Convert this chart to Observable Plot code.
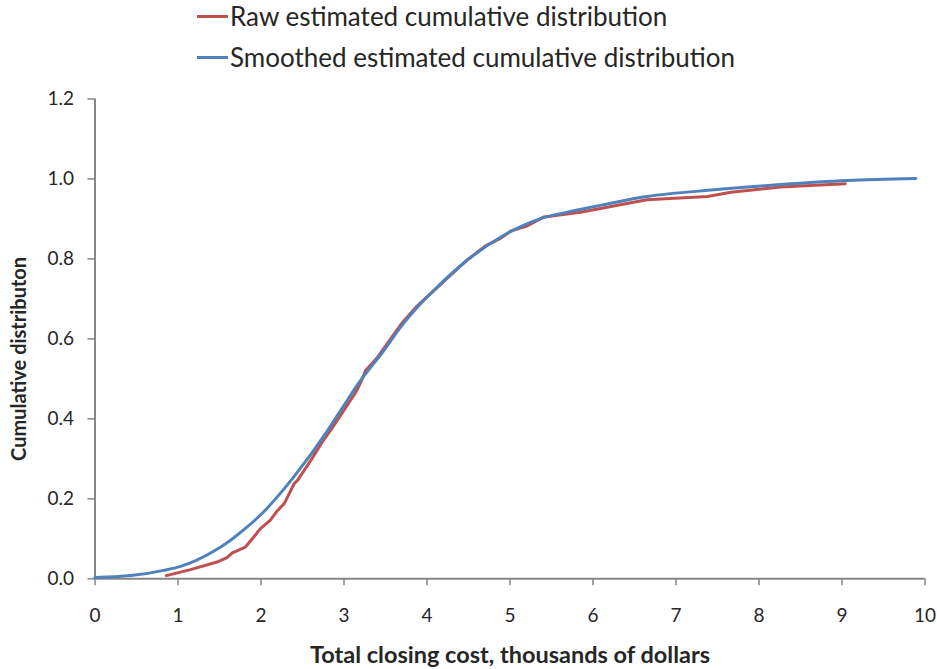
<!DOCTYPE html>
<html>
<head>
<meta charset="utf-8">
<script src="https://cdn.jsdelivr.net/npm/d3@7"></script>
<script src="https://cdn.jsdelivr.net/npm/@observablehq/plot@0.6"></script>
<style>
  html, body { margin: 0; padding: 0; background: #fff; }
  #wrap { position: relative; width: 937px; height: 669px; font-family: Lato, "Open Sans", sans-serif; }
  #legend { position: absolute; left: 197px; top: 0; color: #262626; font-size: 26px; line-height: 31px; }
  .item { position: absolute; white-space: nowrap; display: flex; align-items: center; }
  .swatch { width: 31px; height: 3px; margin-right: 2px; }
</style>
</head>
<body>
<div id="wrap">
  <div id="legend"></div>
</div>
<script>
// ---- Data ----
const seriesNames = ["Raw estimated cumulative distribution", "Smoothed estimated cumulative distribution"];
const seriesColors = ["#C0504D", "#4F81BD"];

// Raw estimated cumulative distribution (x: thousands of dollars, y: cumulative share)
const rawX = [0.86, 1.15, 1.47, 1.59, 1.65, 1.81, 1.91, 1.99, 2.11, 2.20, 2.28, 2.40, 2.44, 2.60, 2.74, 2.84, 3.00, 3.14, 3.20, 3.26, 3.40, 3.70, 3.88, 4.08, 4.48, 4.70, 4.89, 5.01, 5.20, 5.41, 5.85, 6.09, 6.65, 7.38, 7.66, 8.26, 9.04];
const rawY = [0.008, 0.023, 0.042, 0.053, 0.064, 0.079, 0.104, 0.125, 0.146, 0.171, 0.188, 0.238, 0.246, 0.296, 0.343, 0.372, 0.422, 0.466, 0.490, 0.521, 0.553, 0.640, 0.682, 0.720, 0.797, 0.832, 0.852, 0.870, 0.882, 0.905, 0.917, 0.926, 0.948, 0.956, 0.967, 0.980, 0.988];

// Smoothed estimated cumulative distribution
const smoothX = [0.0, 0.43, 0.83, 1.03, 1.43, 1.63, 1.83, 2.03, 2.23, 2.40, 2.80, 3.00, 3.20, 3.48, 3.68, 3.96, 4.08, 4.48, 4.89, 5.37, 5.69, 6.09, 6.65, 7.46, 8.26, 9.06, 9.89];
const smoothY = [0.003, 0.008, 0.021, 0.031, 0.069, 0.096, 0.129, 0.167, 0.213, 0.256, 0.370, 0.434, 0.496, 0.571, 0.629, 0.696, 0.721, 0.796, 0.855, 0.901, 0.917, 0.934, 0.956, 0.973, 0.986, 0.996, 1.001];

const xTicks = [0, 1, 2, 3, 4, 5, 6, 7, 8, 9, 10];
const yTicks = [0, 0.2, 0.4, 0.6, 0.8, 1.0, 1.2];
const xTitle = "Total closing cost, thousands of dollars";
const yTitle = "Cumulative distributon";

// ---- Build tables ----
const raw = rawX.map((x, i) => ({x, y: rawY[i]}));
const smooth = smoothX.map((x, i) => ({x, y: smoothY[i]}));

const axisColor = "#868686";
const textColor = "#262626";

const chart = Plot.plot({
  width: 937,
  height: 669,
  marginLeft: 94.5,
  marginRight: 12.5,
  marginTop: 98.5,
  marginBottom: 90.7,
  style: {fontFamily: "Lato, 'Open Sans', sans-serif", color: textColor, background: "#fff"},
  x: {domain: [0, 10]},
  y: {domain: [0, 1.2]},
  marks: [
    Plot.axisX({ticks: xTicks, tickSize: 7, tickPadding: 23, fontSize: 19, stroke: axisColor, strokeWidth: 1.5, fill: textColor, label: null}),
    Plot.axisY({ticks: yTicks, tickSize: 7, tickPadding: 14, fontSize: 19, tickFormat: d3.format(".1f"), stroke: axisColor, strokeWidth: 1.5, fill: textColor, label: null}),
    Plot.ruleX([0], {stroke: axisColor, strokeWidth: 2}),
    Plot.ruleY([0], {stroke: axisColor, strokeWidth: 2}),
    Plot.line(raw, {x: "x", y: "y", stroke: seriesColors[0], strokeWidth: 3, curve: "linear"}),
    Plot.line(smooth, {x: "x", y: "y", stroke: seriesColors[1], strokeWidth: 3, curve: "monotone-x"}),
    Plot.text([xTitle], {frameAnchor: "bottom", dy: 84, fontSize: 23.5, fontWeight: "bold", fill: textColor, textAnchor: "middle"}),
    Plot.text([yTitle], {frameAnchor: "left", rotate: -90, dx: -75, dy: 20, fontSize: 20, fontWeight: "bold", fill: textColor, textAnchor: "middle"})
  ]
});
chart.style.position = "absolute";
chart.style.left = "0px";
chart.style.top = "0px";
const wrap = document.getElementById("wrap");
wrap.insertBefore(chart, wrap.firstChild);

// ---- Legend ----
const legend = document.getElementById("legend");
seriesNames.forEach((name, i) => {
  const item = document.createElement("div");
  item.className = "item";
  item.style.top = (i === 0 ? 1 : 42) + "px";
  const sw = document.createElement("span");
  sw.className = "swatch";
  sw.style.background = seriesColors[i];
  const label = document.createElement("span");
  label.textContent = name;
  item.appendChild(sw);
  item.appendChild(label);
  legend.appendChild(item);
});
</script>
</body>
</html>
